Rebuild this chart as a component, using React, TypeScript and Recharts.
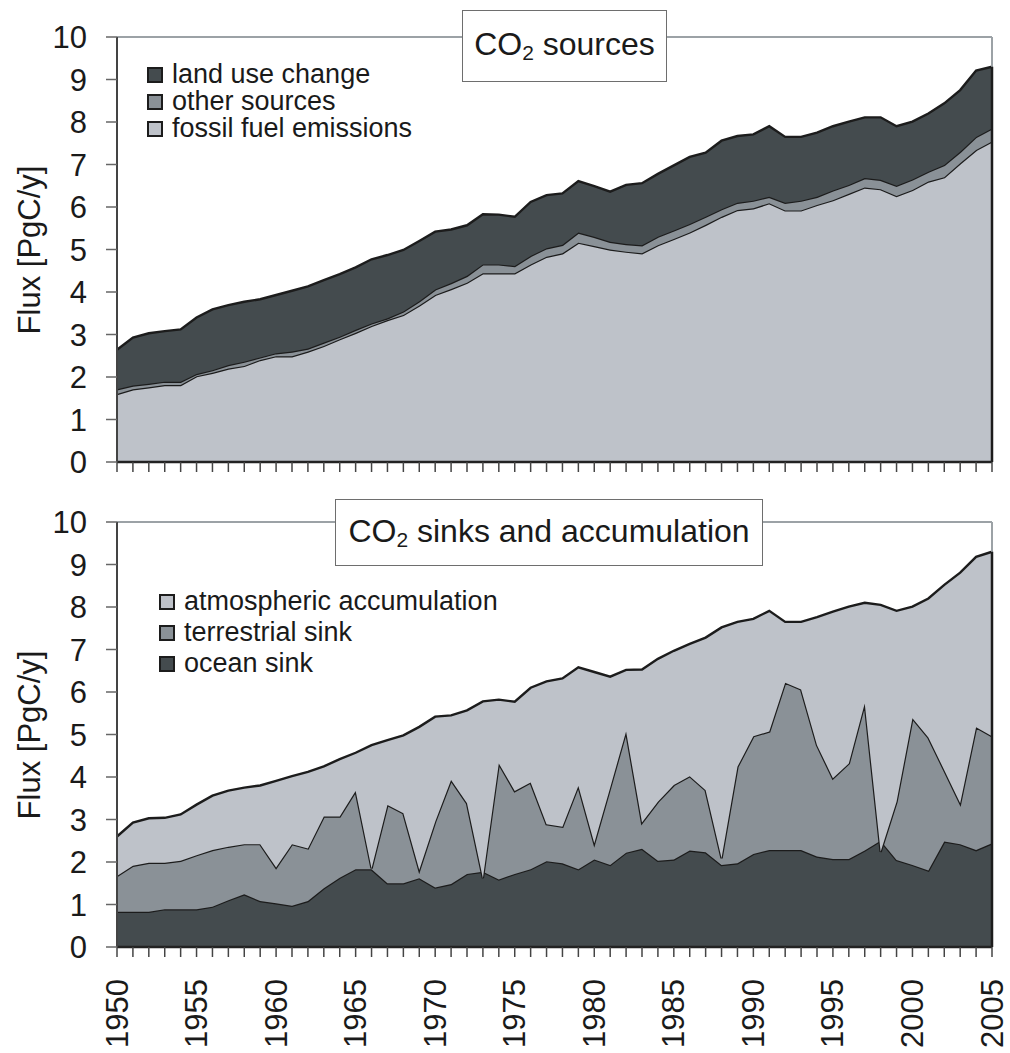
import React from "react";
import { AreaChart, Area, XAxis, YAxis, ReferenceLine } from "recharts";

// years on the x axis
const years = [
  1950, 1951, 1952, 1953, 1954, 1955, 1956, 1957, 1958, 1959,
  1960, 1961, 1962, 1963, 1964, 1965, 1966, 1967, 1968, 1969,
  1970, 1971, 1972, 1973, 1974, 1975, 1976, 1977, 1978, 1979,
  1980, 1981, 1982, 1983, 1984, 1985, 1986, 1987, 1988, 1989,
  1990, 1991, 1992, 1993, 1994, 1995, 1996, 1997, 1998, 1999,
  2000, 2001, 2002, 2003, 2004, 2005,
];

// sources (PgC/y)
const fossilFuel = [
  1.6, 1.71, 1.76, 1.81, 1.81, 2.02, 2.1, 2.2, 2.26, 2.4,
  2.49, 2.49, 2.6, 2.73, 2.89, 3.04, 3.2, 3.34, 3.46, 3.68,
  3.93, 4.07, 4.22, 4.44, 4.44, 4.44, 4.65, 4.83, 4.91, 5.16,
  5.08, 5.0, 4.95, 4.91, 5.1, 5.25, 5.4, 5.58, 5.77, 5.93,
  5.97, 6.09, 5.92, 5.92, 6.05, 6.16, 6.31, 6.46, 6.42, 6.26,
  6.4, 6.6, 6.7, 7.03, 7.34, 7.54,
];
const otherSources = [
  0.11, 0.09, 0.08, 0.08, 0.08, 0.05, 0.06, 0.08, 0.1, 0.06,
  0.07, 0.11, 0.07, 0.08, 0.06, 0.07, 0.06, 0.04, 0.08, 0.1,
  0.13, 0.14, 0.16, 0.21, 0.21, 0.17, 0.2, 0.2, 0.2, 0.24,
  0.22, 0.18, 0.18, 0.19, 0.2, 0.2, 0.2, 0.19, 0.18, 0.17,
  0.18, 0.15, 0.18, 0.23, 0.19, 0.23, 0.21, 0.22, 0.22, 0.24,
  0.25, 0.23, 0.29, 0.27, 0.31, 0.31,
];
const landUse = [
  0.93, 1.13, 1.19, 1.19, 1.23, 1.33, 1.43, 1.41, 1.41, 1.37,
  1.37, 1.43, 1.46, 1.47, 1.47, 1.47, 1.51, 1.49, 1.45, 1.42,
  1.36, 1.26, 1.19, 1.18, 1.17, 1.16, 1.27, 1.25, 1.21, 1.21,
  1.19, 1.18, 1.39, 1.46, 1.48, 1.53, 1.58, 1.51, 1.61, 1.57,
  1.56, 1.66, 1.55, 1.5, 1.51, 1.51, 1.49, 1.43, 1.47, 1.4,
  1.36, 1.37, 1.45, 1.45, 1.56, 1.45,
];

// sinks (PgC/y)
const oceanSink = [
  0.83, 0.83, 0.83, 0.89, 0.89, 0.89, 0.95, 1.1, 1.24, 1.08,
  1.03, 0.97, 1.08, 1.38, 1.63, 1.83, 1.83, 1.5, 1.5, 1.62,
  1.4, 1.48, 1.72, 1.77, 1.59, 1.72, 1.83, 2.02, 1.97, 1.83,
  2.06, 1.93, 2.22, 2.31, 2.03, 2.06, 2.27, 2.23, 1.93, 1.97,
  2.19, 2.28, 2.28, 2.28, 2.13, 2.07, 2.07, 2.27, 2.5, 2.05,
  1.93, 1.8, 2.48, 2.42, 2.28, 2.44,
];
const terrestrialSink = [
  0.84, 1.08, 1.15, 1.09, 1.14, 1.27, 1.33, 1.26, 1.18, 1.34,
  0.84, 1.45, 1.24, 1.69, 1.44, 1.84, 0.02, 1.84, 1.65, 0.19,
  1.55, 2.45, 1.66, -0.15, 2.73, 1.95, 2.04, 0.87, 0.86, 1.96,
  0.38, 1.82, 2.85, 0.62, 1.39, 1.75, 1.75, 1.46, 0.16, 2.27,
  2.77, 2.79, 3.94, 3.78, 2.62, 1.9, 2.25, 3.46, -0.26, 1.37,
  3.45, 3.13, 1.68, 0.96, 2.89, 2.52,
];
const atmospheric = [
  0.93, 1.02, 1.05, 1.06, 1.09, 1.19, 1.28, 1.32, 1.33, 1.38,
  2.04, 1.6, 1.8, 1.18, 1.35, 0.9, 2.9, 1.53, 1.83, 3.37,
  2.47, 1.52, 2.19, 4.16, 1.5, 2.1, 2.23, 3.36, 3.49, 2.79,
  4.03, 2.61, 1.45, 3.6, 3.36, 3.16, 3.11, 3.59, 5.43, 3.41,
  2.76, 2.84, 1.43, 1.59, 3.01, 3.92, 3.69, 2.37, 5.81, 4.49,
  2.63, 3.27, 4.36, 5.43, 4.01, 4.34,
];

const yTicks = [0, 1, 2, 3, 4, 5, 6, 7, 8, 9, 10];
const labelYears = [1950, 1955, 1960, 1965, 1970, 1975, 1980, 1985, 1990, 1995, 2000, 2005];

const sourcesData = years.map((year, i) => ({
  year,
  fossil: fossilFuel[i],
  other: otherSources[i],
  land: landUse[i],
}));
const sinksData = years.map((year, i) => ({
  year,
  ocean: oceanSink[i],
  terrestrial: terrestrialSink[i],
  atmos: atmospheric[i],
}));

const DARK = "#444b4e";
const MID = "#8a9197";
const LIGHT = "#bec2c9";
const EDGE = "#1c1c1c";
const FRAME = "#9ca2a6";
const FONT = "'Liberation Sans', Arial, sans-serif";

const W = 1010;
const last = years.length - 1;

function YearTick(props: any) {
  const { x, y, payload, show } = props;
  if (!show || !labelYears.includes(payload.value)) return null;
  const ty = y + 20;
  return (
    <text
      x={x}
      y={ty}
      transform={`rotate(-90 ${x} ${ty})`}
      textAnchor="end"
      dominantBaseline="central"
      fontSize={31}
      fontFamily={FONT}
      fill="#1a1a1a"
    >
      {payload.value}
    </text>
  );
}

const yLabel = {
  content: () => (
    <text
      x={29}
      y={250}
      transform="rotate(-90 29 250)"
      textAnchor="middle"
      dominantBaseline="central"
      fontSize={31}
      fontFamily={FONT}
      fill="#1a1a1a"
    >
      Flux [PgC/y]
    </text>
  ),
};

function Legend({ items, left, top, rowH }: { items: { name: string; color: string }[]; left: number; top: number; rowH: number }) {
  return (
    <div style={{ position: "absolute", left, top, fontFamily: FONT, fontSize: 27, color: "#1a1a1a" }}>
      {items.map((it) => (
        <div key={it.name} style={{ display: "flex", alignItems: "center", height: rowH, whiteSpace: "nowrap" }}>
          <span
            style={{
              width: 16,
              height: 16,
              boxSizing: "border-box",
              border: `2px solid ${EDGE}`,
              background: it.color,
              marginRight: 9,
              display: "inline-block",
            }}
          />
          {it.name}
        </div>
      ))}
    </div>
  );
}

function TitleBox({ left, top, width, height, rest }: { left: number; top: number; width: number; height: number; rest: string }) {
  return (
    <div
      style={{
        position: "absolute",
        left,
        top,
        width,
        height,
        boxSizing: "border-box",
        border: "1.5px solid #6e6e6e",
        background: "#fff",
        display: "flex",
        alignItems: "center",
        justifyContent: "center",
        fontFamily: FONT,
        fontSize: 32,
        color: "#1a1a1a",
        whiteSpace: "nowrap",
      }}
    >
      <span>
        CO<sub style={{ fontSize: 21, verticalAlign: "-0.25em" }}>2</sub>
        {rest}
      </span>
    </div>
  );
}

export default function App() {
  const sourcesTotal = fossilFuel[last] + otherSources[last] + landUse[last];
  const sinksTotal = oceanSink[last] + terrestrialSink[last] + atmospheric[last];
  const margin = { top: 37, right: 18, left: 0, bottom: 0 };

  return (
    <div style={{ position: "absolute", left: 0, top: 0, width: W, height: 1053, background: "#fff" }}>
      <div style={{ position: "absolute", left: 0, top: 0 }}>
        <AreaChart width={W} height={500} data={sourcesData} margin={margin}>
          <XAxis
            dataKey="year"
            type="number"
            domain={[1950, 2005]}
            ticks={years}
            interval={0}
            height={38}
            tickSize={10}
            axisLine={{ stroke: "#222", strokeWidth: 2.5 }}
            tickLine={{ stroke: "#444", strokeWidth: 1.5 }}
            tick={<YearTick show={false} />}
          />
          <YAxis
            domain={[0, 10]}
            ticks={yTicks}
            interval={0}
            width={117}
            tickSize={11}
            tickMargin={19}
            axisLine={{ stroke: "#444", strokeWidth: 2 }}
            tickLine={{ stroke: "#666", strokeWidth: 1.5 }}
            tick={{ fontSize: 31, fontFamily: FONT, fill: "#1a1a1a" }}
            label={yLabel}
          />
          <ReferenceLine y={10} stroke={FRAME} strokeWidth={2} />
          <ReferenceLine x={2005} stroke={FRAME} strokeWidth={2} />
          <Area type="linear" dataKey="fossil" stackId="s" stroke={EDGE} strokeWidth={2.4} fill={LIGHT} fillOpacity={1} isAnimationActive={false} />
          <Area type="linear" dataKey="other" stackId="s" stroke={EDGE} strokeWidth={2.4} fill={MID} fillOpacity={1} isAnimationActive={false} />
          <Area type="linear" dataKey="land" stackId="s" stroke={EDGE} strokeWidth={2.4} fill={DARK} fillOpacity={1} isAnimationActive={false} />
          <ReferenceLine
            segment={[{ x: 2005, y: 0 }, { x: 2005, y: sourcesTotal }]}
            stroke={EDGE}
            strokeWidth={2.5}
          />
        </AreaChart>
      </div>

      <div style={{ position: "absolute", left: 0, top: 485 }}>
        <AreaChart width={W} height={568} data={sinksData} margin={margin}>
          <XAxis
            dataKey="year"
            type="number"
            domain={[1950, 2005]}
            ticks={years}
            interval={0}
            height={106}
            tickSize={10}
            axisLine={{ stroke: "#222", strokeWidth: 2.5 }}
            tickLine={{ stroke: "#444", strokeWidth: 1.5 }}
            tick={<YearTick show={true} />}
          />
          <YAxis
            domain={[0, 10]}
            ticks={yTicks}
            interval={0}
            width={117}
            tickSize={11}
            tickMargin={19}
            axisLine={{ stroke: "#444", strokeWidth: 2 }}
            tickLine={{ stroke: "#666", strokeWidth: 1.5 }}
            tick={{ fontSize: 31, fontFamily: FONT, fill: "#1a1a1a" }}
            label={yLabel}
          />
          <ReferenceLine y={10} stroke={FRAME} strokeWidth={2} />
          <ReferenceLine x={2005} stroke={FRAME} strokeWidth={2} />
          <Area type="linear" dataKey="ocean" stackId="k" stroke={EDGE} strokeWidth={2.4} fill={DARK} fillOpacity={1} isAnimationActive={false} />
          <Area type="linear" dataKey="terrestrial" stackId="k" stroke={EDGE} strokeWidth={2.4} fill={MID} fillOpacity={1} isAnimationActive={false} />
          <Area type="linear" dataKey="atmos" stackId="k" stroke={EDGE} strokeWidth={2.4} fill={LIGHT} fillOpacity={1} isAnimationActive={false} />
          <ReferenceLine
            segment={[{ x: 2005, y: 0 }, { x: 2005, y: sinksTotal }]}
            stroke={EDGE}
            strokeWidth={2.5}
          />
        </AreaChart>
      </div>

      <TitleBox left={462} top={10} width={205} height={72} rest=" sources" />
      <TitleBox left={335} top={499} width={428} height={67} rest=" sinks and accumulation" />

      <Legend
        left={147}
        top={61}
        rowH={27}
        items={[
          { name: "land use change", color: DARK },
          { name: "other sources", color: MID },
          { name: "fossil fuel emissions", color: LIGHT },
        ]}
      />
      <Legend
        left={159}
        top={586}
        rowH={31}
        items={[
          { name: "atmospheric accumulation", color: LIGHT },
          { name: "terrestrial sink", color: MID },
          { name: "ocean sink", color: DARK },
        ]}
      />
    </div>
  );
}
